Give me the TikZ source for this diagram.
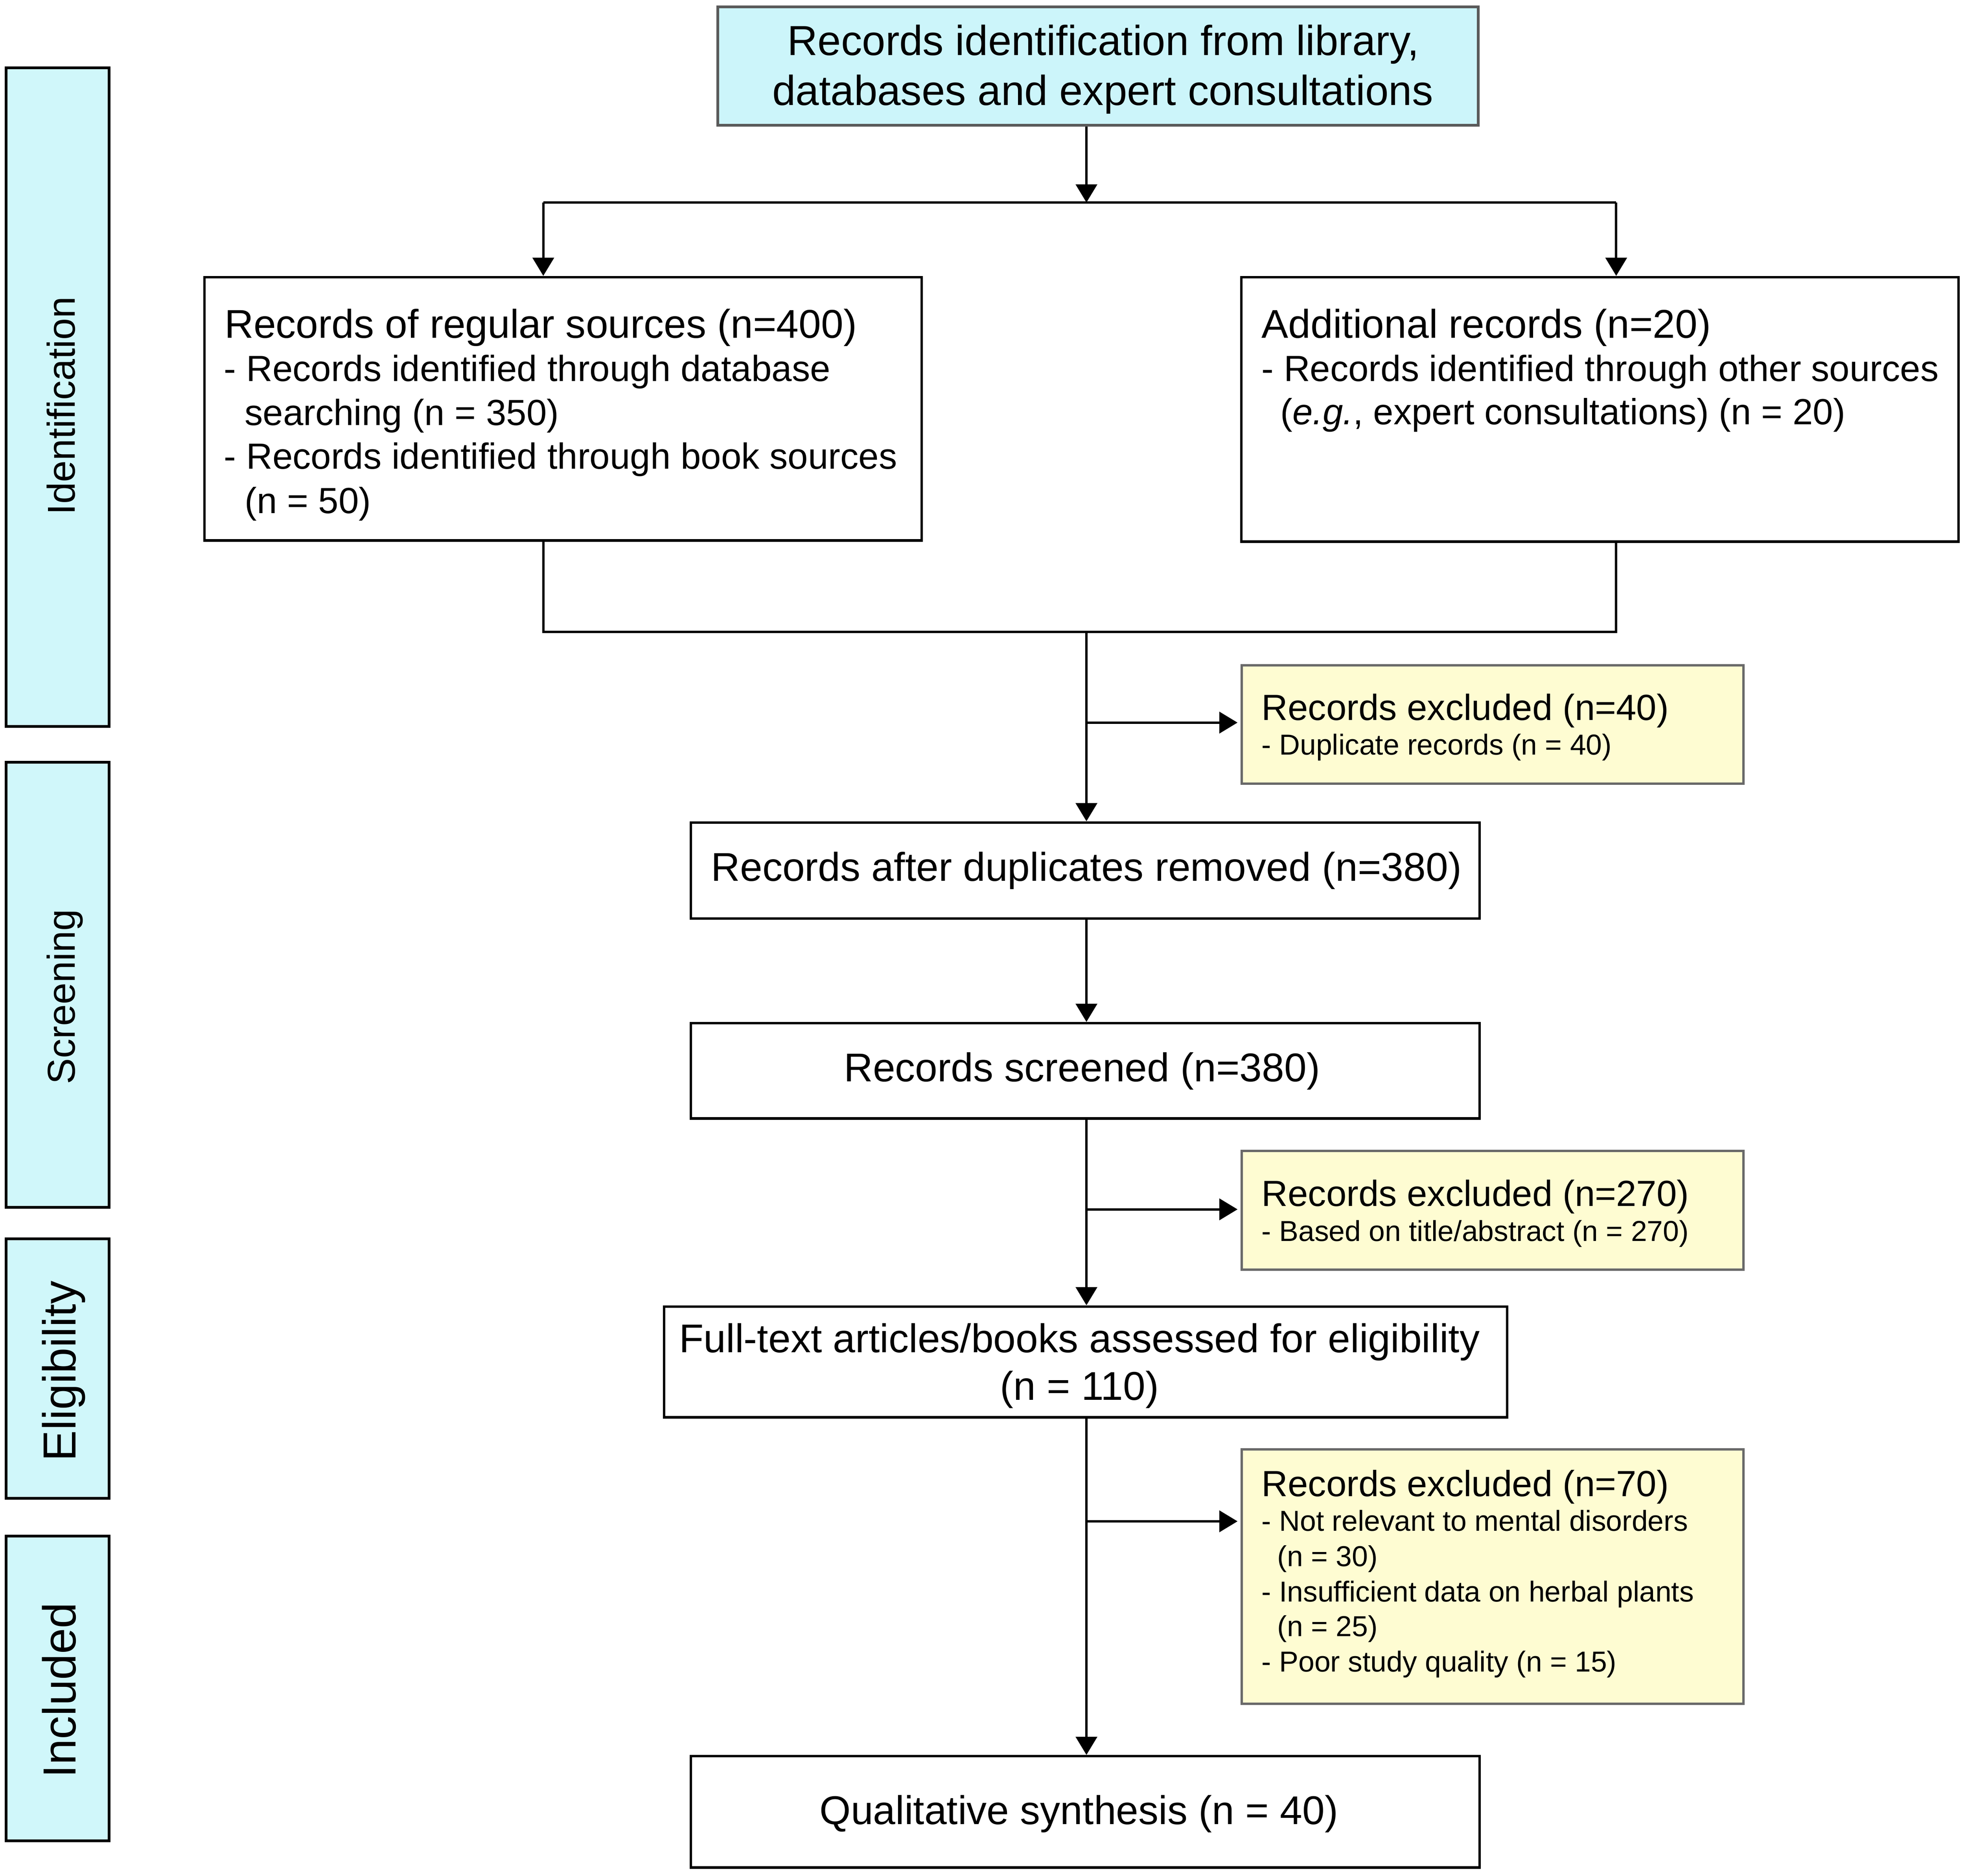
\documentclass[tikz,border=0pt]{standalone}
\usepackage{fontspec}
\setmainfont{Liberation Sans}
\usetikzlibrary{arrows.meta}
\definecolor{cyanfill}{RGB}{204,245,250}
\definecolor{sidefill}{RGB}{208,247,250}
\definecolor{yelfill}{RGB}{254,252,210}
\definecolor{grayline}{RGB}{90,90,90}
\definecolor{yelline}{RGB}{105,105,105}
\begin{document}
\begin{tikzpicture}[x=1pt,y=-1pt,
  box/.style={draw=black, line width=2pt, fill=white, inner sep=0pt},
  topbox/.style={draw=grayline, line width=2.2pt, fill=cyanfill, inner sep=0pt},
  exbox/.style={draw=yelline, line width=1.9pt, fill=yelfill, inner sep=0pt},
  sidebox/.style={draw=black, line width=2.2pt, fill=sidefill, inner sep=0pt},
  conn/.style={line width=1.9pt, draw=black},
  arr/.style={conn, -{Triangle[length=14.5pt,width=17pt]}},
  txt/.style={inner sep=0pt, anchor=base west},
  ctxt/.style={inner sep=0pt, anchor=base},
  big/.style={font=\fontsize{32}{38}\selectfont},
  huge/.style={font=\fontsize{33.5}{40}\selectfont},
  mid/.style={font=\fontsize{29}{35}\selectfont},
  sml/.style={font=\fontsize{23}{28}\selectfont},
  side/.style={inner sep=0pt, anchor=base, rotate=90, font=\fontsize{31}{36}\selectfont},
  sidebig/.style={side, font=\fontsize{37}{42}\selectfont},
]
\useasboundingbox (0,0) rectangle (1568,1495.9);

% ---- boxes ----
\node[topbox, minimum width=606.5pt, minimum height=94.5pt] (top) at (875.75,52.75) {};
\node[box, minimum width=572pt, minimum height=210pt] (left) at (449,326) {};
\node[box, minimum width=572pt, minimum height=211pt] (right) at (1276,326.5) {};
\node[exbox, minimum width=400pt, minimum height=94.5pt] (ex1) at (1190.35,577.75) {};
\node[box, minimum width=629pt, minimum height=76.5pt] (dup) at (865.5,694.25) {};
\node[box, minimum width=629pt, minimum height=76pt] (scr) at (865.5,854) {};
\node[exbox, minimum width=400pt, minimum height=94.5pt] (ex2) at (1190.35,965.25) {};
\node[box, minimum width=672.3pt, minimum height=88.4pt] (elig) at (865.85,1086.2) {};
\node[exbox, minimum width=400pt, minimum height=203.1pt] (ex3) at (1190.35,1257.35) {};
\node[box, minimum width=629pt, minimum height=88.8pt] (qual) at (865.5,1445) {};

\node[sidebox, minimum width=82pt, minimum height=525.5pt] (sIdent) at (46,316.75) {};
\node[sidebox, minimum width=82pt, minimum height=355pt] (sScr) at (46,785.5) {};
\node[sidebox, minimum width=82pt, minimum height=207pt] (sElig) at (46,1091.5) {};
\node[sidebox, minimum width=82pt, minimum height=243pt] (sIncl) at (46,1346.5) {};

% ---- side labels ----
\node[side] (lIdent) at (59.6,323.5) {Identification};
\node[side] (lScr) at (59.6,795) {Screening};
\node[sidebig] (lElig) at (60.5,1093.5) {Eligibility};
\node[sidebig] (lIncl) at (60.5,1348) {Included};

% ---- texts ----
\node[ctxt, huge] (t1a) at (880,44) {Records identification from library,};
\node[ctxt, huge] (t1b) at (879.5,84) {databases and expert consultations};

\node[txt, big] (l0) at (179,269.5) {Records of regular sources (n=400)};
\node[txt, mid] (l1) at (178.5,304) {- Records identified through database};
\node[txt, mid] (l2) at (195,339) {searching (n = 350)};
\node[txt, mid] (l3) at (178.5,374) {- Records identified through book sources};
\node[txt, mid] (l4) at (195,409.5) {(n = 50)};

\node[txt, big] (r0) at (1006,269.5) {Additional records (n=20)};
\node[txt, mid] (r1) at (1006,304) {- Records identified through other sources};
\node[txt, mid] (r2) at (1021,338.5) {(\textit{e.g.}, expert consultations) (n = 20)};

\node[txt, mid] (e1a) at (1006,574.5) {Records excluded (n=40)};
\node[txt, sml] (e1b) at (1006,602) {- Duplicate records (n = 40)};

\node[ctxt, big] (dupT) at (866.5,702.5) {Records after duplicates removed (n=380)};
\node[ctxt, big] (scrT) at (863,862.5) {Records screened (n=380)};

\node[txt, mid] (e2a) at (1006,962) {Records excluded (n=270)};
\node[txt, sml] (e2b) at (1006,990) {- Based on title/abstract (n = 270)};

\node[ctxt, big] (eligA) at (861,1078.6) {Full-text articles/books assessed for eligibility};
\node[ctxt, big] (eligB) at (861,1116.6) {(n = 110)};

\node[txt, mid] (e3a) at (1006,1193.5) {Records excluded (n=70)};
\node[txt, sml] (e3b) at (1006,1221) {- Not relevant to mental disorders};
\node[txt, sml] (e3c) at (1018.6,1249.2) {(n = 30)};
\node[txt, sml] (e3d) at (1006,1277.5) {- Insufficient data on herbal plants};
\node[txt, sml] (e3e) at (1018.6,1305) {(n = 25)};
\node[txt, sml] (e3f) at (1006,1333.2) {- Poor study quality (n = 15)};

\node[ctxt, big] (qualT) at (860.5,1454.8) {Qualitative synthesis (n = 40)};

% ---- connector points ----
\coordinate (j1) at (866.5,161.5);
\coordinate (hl) at (433.3,161.5);
\coordinate (hr) at (1289,161.5);
\coordinate (bl) at (433.3,504);
\coordinate (br) at (1289,504);
\coordinate (j2) at (866.5,504);
\coordinate (b1) at (866.5,576.3);
\coordinate (b2) at (866.5,964.5);
\coordinate (b3) at (866.5,1213.3);

% ---- connectors ----
\draw[arr] (top.south -| j1) -- (j1);
\draw[conn] (hl) -- (hr);
\draw[arr] (hl) -- (hl |- left.north);
\draw[arr] (hr) -- (hr |- right.north);
\draw[conn] (left.south -| bl) -- (bl) -- (br) -- (right.south -| br);
\draw[arr] (j2) -- (dup.north -| j2);
\draw[arr, shorten >=2.4pt] (b1) -- (b1 -| ex1.west);
\draw[arr] (dup.south -| j2) -- (scr.north -| j2);
\draw[arr] (scr.south -| j2) -- (elig.north -| j2);
\draw[arr, shorten >=2.4pt] (b2) -- (b2 -| ex2.west);
\draw[arr] (elig.south -| j2) -- (qual.north -| j2);
\draw[arr, shorten >=2.4pt] (b3) -- (b3 -| ex3.west);
\end{tikzpicture}
\end{document}
